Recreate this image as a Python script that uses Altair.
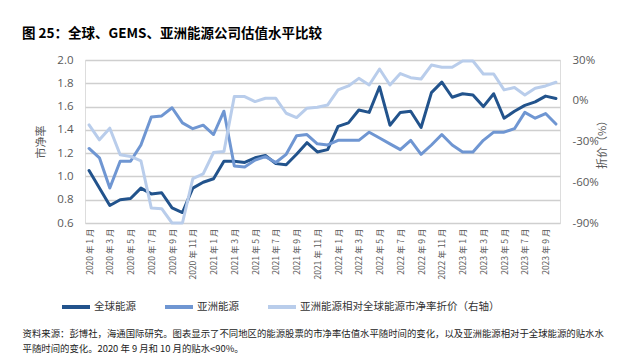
import altair as alt
import pandas as pd

# ---- data ----
months = [f"{y} 年 {m} 月" for y in (2020, 2021, 2022, 2023) for m in range(1, 13)][:46]
tick_labels = months[::2]

global_pb = [1.05, 0.90, 0.75, 0.80, 0.81, 0.90, 0.85, 0.86, 0.73, 0.69,
             0.90, 0.95, 0.98, 1.13, 1.13, 1.12, 1.16, 1.18, 1.11, 1.10,
             1.19, 1.29, 1.21, 1.23, 1.43, 1.46, 1.57, 1.55, 1.77, 1.44,
             1.55, 1.56, 1.42, 1.72, 1.81, 1.68, 1.71, 1.70, 1.60, 1.71,
             1.50, 1.56, 1.61, 1.64, 1.69, 1.67]
asia_pb = [1.24, 1.16, 0.90, 1.13, 1.13, 1.27, 1.51, 1.52, 1.59, 1.46,
           1.41, 1.44, 1.36, 1.56, 1.09, 1.08, 1.14, 1.17, 1.12, 1.19,
           1.35, 1.36, 1.28, 1.27, 1.31, 1.31, 1.31, 1.38, 1.33, 1.28,
           1.23, 1.31, 1.19, 1.27, 1.36, 1.27, 1.21, 1.21, 1.31, 1.38,
           1.38, 1.41, 1.55, 1.50, 1.54, 1.45]
discount = [-17.8, -28.8, -20.2, -39.8, -41.0, -44.2, -79.0, -79.5, -90.0, -90.0,
            -57.4, -53.8, -38.1, -37.3, 3.1, 3.1, -0.6, 1.8, 1.8, -9.2,
            -12.4, -5.5, -4.8, -3.1, 8.0, 10.9, 16.5, 11.6, 23.4, 11.6,
            20.0, 17.0, 16.0, 26.3, 24.6, 24.6, 29.3, 29.3, 19.7, 19.7,
            8.0, 9.7, 4.3, 9.2, 10.9, 13.6]

series_names = ["全球能源", "亚洲能源", "亚洲能源相对全球能源市净率折价（右轴）"]
series_colors = ["#22538C", "#6F96D2", "#B9CDEB"]
left_ticks = [0.6, 0.8, 1.0, 1.2, 1.4, 1.6, 1.8, 2.0]
right_ticks = [-90, -60, -30, 0, 30]

title_text = "图 25：全球、GEMS、亚洲能源公司估值水平比较"
footer_lines = [
    "资料来源：彭博社，海通国际研究。图表显示了不同地区的能源股票的市净率估值水平随时间的变化，以及亚洲能源相对于全球能源的贴水水",
    "平随时间的变化。2020 年 9 月和 10 月的贴水<90%。",
]

df = pd.DataFrame({"month": months, "g": global_pb, "a": asia_pb, "d": discount})

NUM_FONT = "Open Sans, Noto Sans CJK SC, sans-serif"
CJK = "Noto Sans CJK SC"
GRAY = "#595959"

x_enc = alt.X(
    "month:N", sort=months,
    scale=alt.Scale(type="point", padding=0.39),
    axis=alt.Axis(
        values=tick_labels, labelAngle=270, labelFontSize=8.5, labelFont=CJK,
        labelColor=GRAY, labelPadding=5, domain=False, ticks=False, grid=False,
        title=footer_lines, titleX=-63, titleY=106, titleAlign="left",
        titleAnchor="start", titleAngle=0, titleBaseline="top",
        titleFontSize=9.4, titleFont=CJK, titleFontWeight="normal",
        titleColor="#222222", titleLineHeight=15,
    ),
)

color_enc = alt.Color(
    "series:N",
    scale=alt.Scale(domain=series_names, range=series_colors),
    legend=alt.Legend(
        orient="none", legendX=-25, legendY=231, direction="horizontal",
        title=None, symbolType="stroke", symbolStrokeWidth=4, symbolSize=784,
        labelFontSize=10.5, labelFont=CJK, labelColor="#333333",
        labelOffset=2, columnPadding=21, labelLimit=400,
    ),
)

yl_scale = alt.Scale(domain=[0.6, 2.0], nice=False, zero=False)
left_axis = alt.Axis(
    values=left_ticks, format=".1f", grid=True, gridColor="#CFCFCF", gridWidth=1.4,
    domain=False, ticks=False, labelColor=GRAY, labelFontSize=11.5, labelFont=NUM_FONT,
    labelPadding=12, title="市净率", titleFont=CJK, titleFontSize=11,
    titleFontWeight="normal", titleColor=GRAY, titlePadding=10,
)
right_axis = alt.Axis(
    orient="right", values=right_ticks, labelExpr="datum.value + '%'", grid=False,
    domain=False, ticks=False, labelColor=GRAY, labelFontSize=11.5, labelFont=NUM_FONT,
    labelPadding=12, title="折价（%）", titleFont=CJK, titleFontSize=11,
    titleFontWeight="normal", titleColor=GRAY, titlePadding=9, titleAngle=270,
)

base = alt.Chart(df)
line_kw = dict(strokeWidth=3, strokeJoin="round", strokeCap="round")

dark = base.transform_calculate(series=f"'{series_names[0]}'").mark_line(**line_kw).encode(
    x=x_enc, y=alt.Y("g:Q", scale=yl_scale, axis=left_axis), color=color_enc)
medium = base.transform_calculate(series=f"'{series_names[1]}'").mark_line(**line_kw).encode(
    x=x_enc, y=alt.Y("a:Q", scale=yl_scale, axis=left_axis), color=color_enc)
light = base.transform_calculate(series=f"'{series_names[2]}'").mark_line(**line_kw).encode(
    x=x_enc,
    y=alt.Y("d:Q", scale=alt.Scale(domain=[-90, 30], nice=False, zero=False), axis=right_axis),
    color=color_enc)

left = alt.layer(dark, medium)
chart = alt.layer(left, light).resolve_scale(y="independent").properties(
    width=475, height=163,
    autosize=alt.AutoSizeParams(type="none"),
    padding={"left": 77, "top": 52, "right": 52, "bottom": 131},
    title=alt.TitleParams(
        text=title_text, anchor="start", frame="group", dx=-63, offset=14,
        fontSize=13.5, fontWeight="bold", font=CJK, color="#000000",
    ),
).configure_view(strokeWidth=0).configure(background="white")

chart.save("out.html", embed_options={"renderer": "svg", "actions": False})
